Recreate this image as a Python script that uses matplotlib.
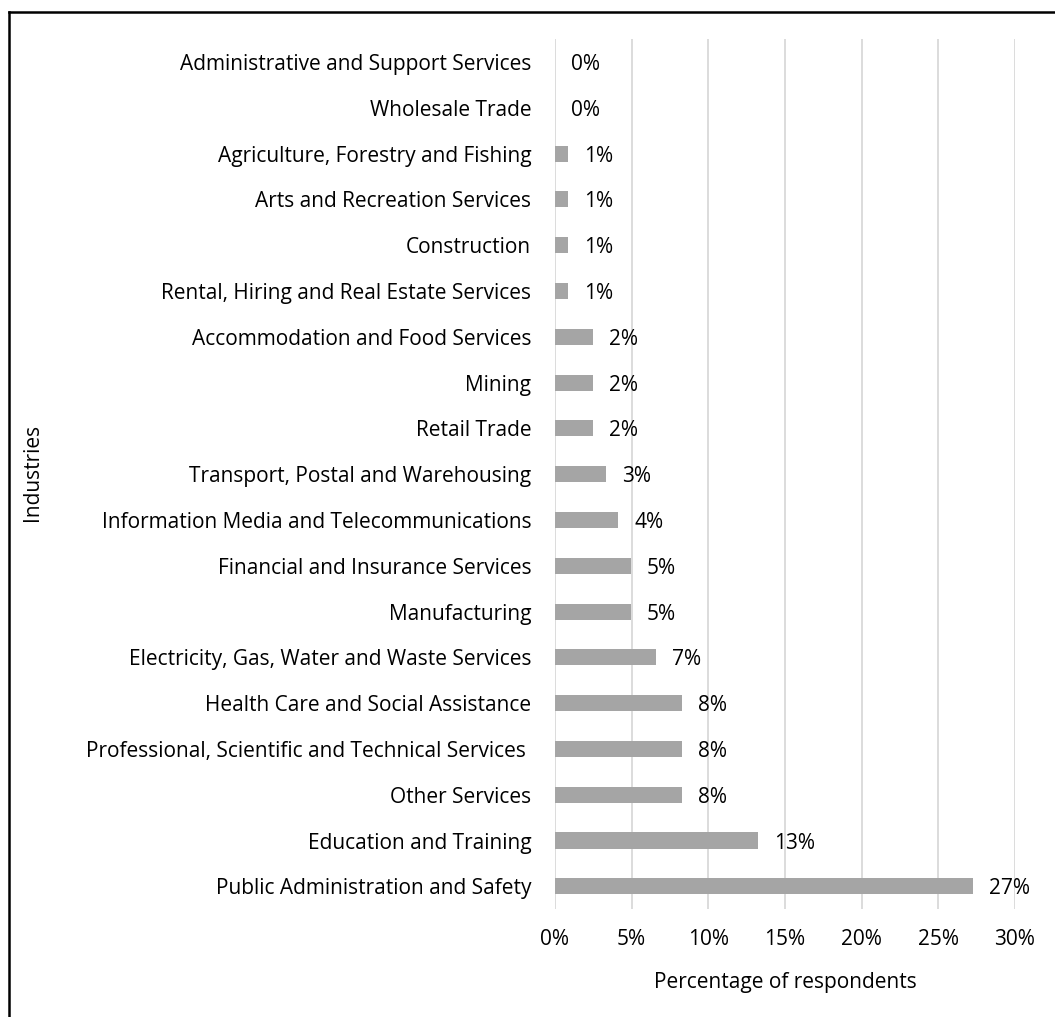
import matplotlib.pyplot as plt
from matplotlib.lines import Line2D
from matplotlib.ticker import FuncFormatter

# Industries, top of chart first
industries = [
    "Administrative and Support Services",
    "Wholesale Trade",
    "Agriculture, Forestry and Fishing",
    "Arts and Recreation Services",
    "Construction",
    "Rental, Hiring and Real Estate Services",
    "Accommodation and Food Services",
    "Mining",
    "Retail Trade",
    "Transport, Postal and Warehousing",
    "Information Media and Telecommunications",
    "Financial and Insurance Services",
    "Manufacturing",
    "Electricity, Gas, Water and Waste Services",
    "Health Care and Social Assistance",
    "Professional, Scientific and Technical Services ",
    "Other Services",
    "Education and Training",
    "Public Administration and Safety",
]
# share of respondents (%)
share = [0.0, 0.0, 0.83, 0.83, 0.83, 0.83, 2.48, 2.48, 2.48, 3.31, 4.13,
         4.96, 4.96, 6.61, 8.26, 8.26, 8.26, 13.22, 27.27]
x_ticks = [0, 5, 10, 15, 20, 25, 30]

BAR = "#a5a5a5"
GRID = "#d9d9d9"
TEXT = "#000000"

plt.rcParams["font.family"] = ["Open Sans", "DejaVu Sans"]
plt.rcParams["font.size"] = 15

fig = plt.figure(figsize=(10.55, 10.17), dpi=100)
ax = fig.add_axes([0.526, 0.106, 0.436, 0.8556])

pos = list(range(len(industries)))[::-1]
ax.barh(pos, share, height=0.35, color=BAR, zorder=3)
for y, v in zip(pos, share):
    ax.annotate(f"{v:.0f}%", (v, y), xytext=(11.5, 0), textcoords="offset points",
                ha="left", va="center_baseline", color=TEXT)

ax.set_xlim(0, 30)
ax.set_ylim(-0.5, len(industries) - 0.5)
ax.set_xticks(x_ticks)
ax.xaxis.set_major_formatter(FuncFormatter(lambda v, _: f"{v:.0f}%"))
ax.set_yticks(pos)
ax.set_yticklabels(industries)
ax.tick_params(axis="y", length=0, pad=17, colors=TEXT)
ax.tick_params(axis="x", length=0, pad=14, colors=TEXT)
ax.grid(axis="x", color=GRID, linewidth=1.3, zorder=0)
for s in ax.spines.values():
    s.set_visible(False)

ax.set_xlabel("Percentage of respondents", labelpad=16, color=TEXT)
fig.text(33 / 1055, 1 - 472 / 1017, "Industries", rotation=90,
         ha="center", va="center", color=TEXT)

# outer frame: top and left edges
fig.add_artist(Line2D([8.5 / 1055, 8.5 / 1055], [0, 1 - 11.5 / 1017],
                      color="black", linewidth=1.8))
fig.add_artist(Line2D([8.5 / 1055, 1], [1 - 11.5 / 1017, 1 - 11.5 / 1017],
                      color="black", linewidth=1.8))

fig.savefig("out.png", dpi=100, facecolor="white")
